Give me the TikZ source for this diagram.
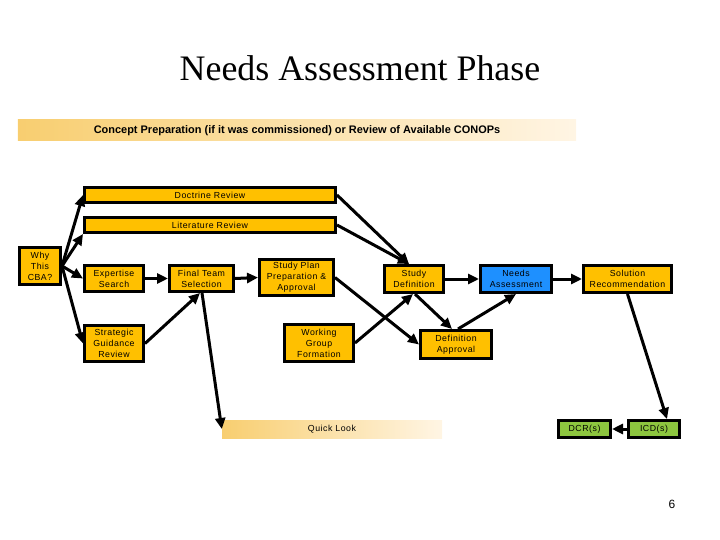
\documentclass[tikz,border=0pt]{standalone}
\usepackage{fontspec}
\setmainfont{Liberation Sans}
\newfontfamily\titlefont{Liberation Serif}
\newfontfamily\boxfont[LetterSpace=6]{Liberation Sans}
\usetikzlibrary{arrows.meta}
\definecolor{boxorange}{RGB}{255,192,0}
\definecolor{needsblue}{RGB}{30,144,255}
\definecolor{docgreen}{RGB}{141,198,63}
\definecolor{bandleft}{RGB}{248,206,112}
\definecolor{bandright}{RGB}{255,245,228}
\tikzset{
  box/.style={draw=black, line width=3bp, fill=boxorange, inner sep=0pt,
    align=center, font=\boxfont\fontsize{8.8}{11}\selectfont},
  band/.style={left color=bandleft, right color=bandright, inner sep=0pt},
  flow/.style={line width=3bp, -{Triangle[length=11bp,width=10bp]}},
}
\begin{document}
\begin{tikzpicture}[x=1bp, y=-1bp]
\useasboundingbox (0,0) rectangle (720,540);
% title
\node[anchor=base, font=\titlefont\fontsize{36}{40}\selectfont] (title) at (360,81) {Needs Assessment Phase};
% banners
\node[band, minimum width=558bp, minimum height=21bp] (concept) at (297,130.5) {};
\node[font=\bfseries\fontsize{11}{12}\selectfont] (concepttext) at (297,130.5) {Concept Preparation (if it was commissioned) or Review of Available CONOPs};
\node[band, minimum width=220bp, minimum height=18bp] (ql) at (332,429) {};
\node[font=\boxfont\fontsize{8.8}{11}\selectfont] (qltext) at (332,429) {Quick Look};
% boxes
\node[box, minimum width=41bp, minimum height=37bp] (why) at (40,266) {Why\\This\\CBA?};
\node[box, minimum width=251bp, minimum height=15bp] (doc) at (210,195) {Doctrine Review};
\node[box, minimum width=251bp, minimum height=15bp] (lit) at (210,225) {Literature Review};
\node[box, minimum width=59bp, minimum height=26bp] (exp) at (114,278.5) {Expertise\\Search};
\node[box, minimum width=59bp, minimum height=36bp] (strat) at (114,343.5) {Strategic\\Guidance\\Review};
\node[box, minimum width=64bp, minimum height=26bp] (final) at (201.5,278.5) {Final Team\\Selection};
\node[box, minimum width=74bp, minimum height=36bp] (plan) at (296.5,277.5) {Study Plan\\Preparation \&\\Approval};
\node[box, minimum width=69bp, minimum height=37bp] (work) at (319,343) {Working\\Group\\Formation};
\node[box, minimum width=59bp, minimum height=27bp] (sdef) at (414,279) {Study\\Definition};
\node[box, fill=needsblue, minimum width=71bp, minimum height=27bp] (needs) at (516,279) {Needs\\Assessment};
\node[box, minimum width=88bp, minimum height=27bp] (sol) at (627.5,279) {Solution\\Recommendation};
\node[box, minimum width=71bp, minimum height=28bp] (dapp) at (456,344.5) {Definition\\Approval};
\node[box, fill=docgreen, minimum width=52bp, minimum height=17bp] (dcr) at (584.5,429) {DCR(s)};
\node[box, fill=docgreen, minimum width=51bp, minimum height=17bp] (icd) at (654,429) {ICD(s)};
% page number
\node[font=\fontsize{12}{14}\selectfont] (page) at (672,504) {6};
% connectors
\draw[flow] (why.east) -- (doc.west);
\draw[flow] (why.east) -- (lit.south west);
\draw[flow] (why.east) -- (exp.west);
\draw[flow] (why.east) -- (strat.west);
\draw[flow] (exp.east) -- (final.west);
\draw[flow] (strat.east) -- ([xshift=-1.5bp]final.south);
\draw[flow] ([xshift=0.5bp]final.south) -- (ql.west);
\draw[flow] (final.east) -- (plan.west);
\draw[flow] (doc.east) -- ([xshift=-5bp]sdef.north);
\draw[flow] (lit.east) -- ([xshift=-5bp]sdef.north);
\draw[flow] (plan.east) -- (dapp.west);
\draw[flow] (work.east) -- ([xshift=-1bp]sdef.south);
\draw[flow] ([xshift=1bp]sdef.south) -- ([xshift=-4bp]dapp.north);
\draw[flow] ([xshift=2bp]dapp.north) -- (needs.south);
\draw[flow] (sdef.east) -- (needs.west);
\draw[flow] (needs.east) -- (sol.west);
\draw[flow] (sol.south) -- ([xshift=13bp]icd.north);
\draw[flow] (icd.west) -- (dcr.east);
\end{tikzpicture}
\end{document}
